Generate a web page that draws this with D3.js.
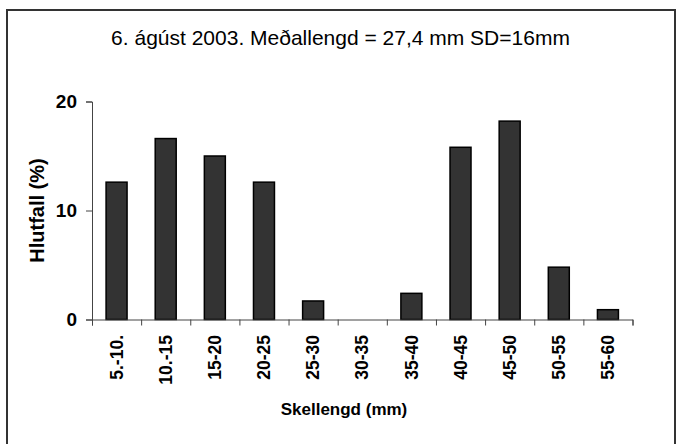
<!DOCTYPE html>
<html>
<head>
<meta charset="utf-8">
<script src="https://cdn.jsdelivr.net/npm/d3@7"></script>
<style>
  body { margin: 0; background: #fff; }
  text { font-family: "Liberation Sans", Arial, sans-serif; fill: #000; }
</style>
</head>
<body>
<div id="chart"></div>
<script>
const categories = ["5.-10.", "10.-15", "15-20", "20-25", "25-30", "30-35",
  "35-40", "40-45", "45-50", "50-55", "55-60"];
const percent = [12.6, 16.6, 15.0, 12.6, 1.7, 0, 2.4, 15.8, 18.2, 4.8, 0.9];
const yTicks = [0, 10, 20];

const title = "6. ágúst 2003. Meðallengd = 27,4 mm SD=16mm";
const xTitle = "Skellengd (mm)";
const yTitle = "Hlutfall (%)";

const width = 677;
const height = 444;
const plot = { left: 92, right: 632.5, top: 101.5, bottom: 319.5 };

const svg = d3
  .select("#chart")
  .append("svg")
  .attr("width", width)
  .attr("height", height);

// outer frame (bottom edge runs off the picture)
svg
  .append("rect")
  .attr("x", 7)
  .attr("y", 10)
  .attr("width", 668)
  .attr("height", 445)
  .attr("fill", "none")
  .attr("stroke", "#333")
  .attr("stroke-width", 2);

svg
  .append("text")
  .attr("x", 340.5)
  .attr("y", 45)
  .attr("text-anchor", "middle")
  .style("font-size", "21px")
  .text(title);

// scales
const xScale = d3
  .scaleBand()
  .domain(categories)
  .range([plot.left, plot.right])
  .paddingInner(0.573)
  .paddingOuter(0.2865);

const edgeScale = d3
  .scaleLinear()
  .domain([0, categories.length])
  .range([plot.left, plot.right]);

const yScale = d3
  .scaleLinear()
  .domain([0, 20])
  .range([plot.bottom, plot.top]);

// bars
svg
  .append("g")
  .selectAll("rect")
  .data(categories)
  .enter()
  .append("rect")
  .attr("x", d => xScale(d))
  .attr("width", xScale.bandwidth())
  .attr("y", (d, i) => yScale(percent[i]))
  .attr("height", (d, i) => yScale(0) - yScale(percent[i]))
  .attr("fill", "#333333")
  .attr("stroke", "#000")
  .attr("stroke-width", 1.5);

// y axis
const gY = svg
  .append("g")
  .attr("transform", "translate(" + plot.left + ",0)")
  .call(
    d3
      .axisLeft(yScale)
      .tickValues(yTicks)
      .tickSize(6)
      .tickPadding(9)
      .tickFormat(d3.format("d"))
  );
gY.select(".domain").attr("stroke", "#444");
gY.selectAll(".tick line").attr("stroke", "#444");
gY.selectAll("text")
  .style("font-size", "19px")
  .style("font-weight", "bold")
  .attr("font-family", null);

// x axis: ticks sit on the category edges
const gEdge = svg
  .append("g")
  .attr("transform", "translate(0," + plot.bottom + ")")
  .call(
    d3
      .axisBottom(edgeScale)
      .tickValues(d3.range(categories.length + 1))
      .tickSize(6)
      .tickFormat("")
  );
gEdge.select(".domain").attr("stroke", "#444");
gEdge.selectAll(".tick line").attr("stroke", "#444");

const gX = svg
  .append("g")
  .attr("transform", "translate(0," + plot.bottom + ")")
  .call(d3.axisBottom(xScale).tickSize(0));
gX.select(".domain").remove();
gX.selectAll("text")
  .attr("font-family", null)
  .style("font-size", "17.5px")
  .style("font-weight", "bold")
  .attr("text-anchor", "end")
  .attr("transform", "rotate(-90)")
  .attr("x", -15.5)
  .attr("y", 0)
  .attr("dy", "0.35em");

// axis titles
svg
  .append("text")
  .attr("x", 344)
  .attr("y", 415)
  .attr("text-anchor", "middle")
  .style("font-size", "17px")
  .style("font-weight", "bold")
  .text(xTitle);

svg
  .append("text")
  .attr("transform", "translate(44," + (plot.top + plot.bottom) / 2 + ") rotate(-90)")
  .attr("text-anchor", "middle")
  .style("font-size", "20px")
  .style("font-weight", "bold")
  .text(yTitle);
</script>
</body>
</html>
